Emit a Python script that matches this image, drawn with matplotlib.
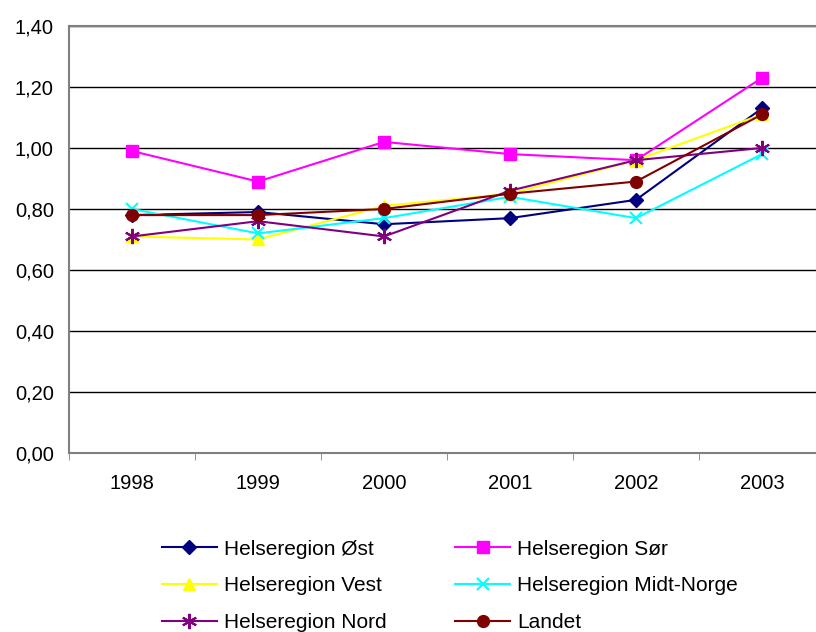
import numpy as np
import matplotlib.pyplot as plt
from matplotlib.ticker import FuncFormatter, FixedLocator

plt.rcParams['font.family'] = ['Liberation Sans', 'DejaVu Sans']

years = ['1998', '1999', '2000', '2001', '2002', '2003']

ost = [0.78, 0.79, 0.75, 0.77, 0.83, 1.13]
sor = [0.99, 0.89, 1.02, 0.98, 0.96, 1.23]
vest = [0.71, 0.70, 0.81, 0.85, 0.96, 1.11]
midt = [0.80, 0.72, 0.77, 0.84, 0.77, 0.98]
nord = [0.71, 0.76, 0.71, 0.86, 0.96, 1.00]
landet = [0.78, 0.78, 0.80, 0.85, 0.89, 1.11]

x = np.arange(len(years))

fig = plt.figure(figsize=(8.16, 6.32), dpi=100)
ax = fig.add_axes([0.0846, 0.2832, 0.9264, 0.6757])

l_ost, = ax.plot(x, ost, color='#000080', marker='D', markersize=7, lw=1.5, label='Helseregion Øst')
l_sor, = ax.plot(x, sor, color='#FF00FF', marker='s', markersize=8.5, lw=1.5, label='Helseregion Sør')
l_vest, = ax.plot(x, vest, color='#FFFF00', marker='^', markersize=9, lw=1.5, label='Helseregion Vest')
l_midt, = ax.plot(x, midt, color='#00FFFF', marker='x', markersize=9, mew=1.5, lw=1.5, label='Helseregion Midt-Norge')
l_nord, = ax.plot(x, nord, color='#800080', marker=(6, 2, 0), markersize=11, mew=1.5, lw=1.5, label='Helseregion Nord')
l_land, = ax.plot(x, landet, color='#800000', marker='o', markersize=8.5, lw=1.5, label='Landet')

ax.set_xlim(-0.5, len(years) - 0.5)
ax.set_ylim(0, 1.4)
ax.set_yticks(np.arange(0, 1.41, 0.2))
ax.yaxis.set_major_formatter(FuncFormatter(lambda v, p: f'{v:.2f}'.replace('.', ',')))
ax.set_xticks(x)
ax.set_xticklabels(years)
ax.xaxis.set_minor_locator(FixedLocator(np.arange(-0.5, len(years), 1.0)))
ax.tick_params(axis='x', which='major', length=0, pad=15, labelsize=14.5)
ax.tick_params(axis='x', which='minor', length=5, color='#808080')
ax.tick_params(axis='y', length=0, labelsize=14.5, pad=11)

ax.grid(axis='y', color='black', lw=1)
ax.set_axisbelow(True)
for s in ['left', 'top', 'bottom']:
    ax.spines[s].set_color('#808080')
    ax.spines[s].set_linewidth(1.5)
ax.spines['right'].set_visible(False)

# legend filled row by row like the original
handles = [l_ost, l_vest, l_nord, l_sor, l_midt, l_land]
fig.legend(handles, [h.get_label() for h in handles], loc='upper left',
           bbox_to_anchor=(0.175, 0.176), ncol=2, frameon=False, fontsize=15,
           handlelength=2.65, columnspacing=3.3, labelspacing=0.86,
           handletextpad=0.33)

fig.savefig('out.png', dpi=100)
